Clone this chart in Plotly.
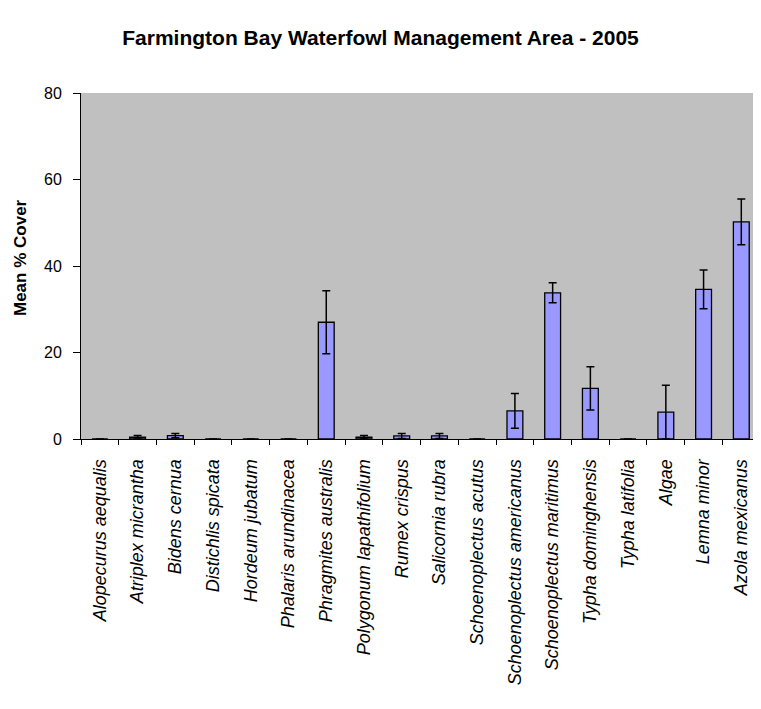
import plotly.graph_objects as go

species = ["Alopecurus aequalis", "Atriplex micrantha", "Bidens cernua", "Distichlis spicata",
           "Hordeum jubatum", "Phalaris arundinacea", "Phragmites australis",
           "Polygonum lapathifolium", "Rumex crispus", "Salicornia rubra",
           "Schoenoplectus acutus", "Schoenoplectus americanus", "Schoenoplectus maritimus",
           "Typha dominghensis", "Typha latifolia", "Algae", "Lemna minor", "Azola mexicanus"]
mean_cover = [0, 0.4, 0.8, 0, 0, 0, 27.0, 0.4, 0.7, 0.7, 0, 6.5, 33.8, 11.7, 0, 6.2, 34.6, 50.2]
std_err = [0, 0.4, 0.5, 0, 0, 0, 7.3, 0.4, 0.6, 0.6, 0, 4.0, 2.3, 5.0, 0, 6.2, 4.5, 5.3]
y_ticks = [0, 20, 40, 60, 80]

# page body has an 8px margin, so the figure is shrunk to fit the window
fig = go.Figure()
fig.add_trace(go.Bar(x=species, y=mean_cover,
                     marker=dict(color="#9999FF", line=dict(color="black", width=1.3)),
                     error_y=dict(type="data", array=std_err, visible=True,
                                  color="black", thickness=1.5, width=4)))

fig.update_layout(
    width=745, height=693,
    margin=dict(l=73, r=0, t=85, b=262),
    paper_bgcolor="white", plot_bgcolor="#C0C0C0",
    bargap=0.58, showlegend=False,
    font=dict(family="Liberation Sans, Arial, sans-serif", color="black"),
    title=dict(text="<b>Farmington Bay Waterfowl Management Area - 2005</b>",
               x=0.5, xanchor="center", y=1 - 30 / 693, yanchor="middle",
               yref="container", font=dict(size=21)),
)
fig.update_xaxes(type="category", range=[-0.5, 17.31], tickangle=-90,
                 tickfont=dict(size=18, style="italic"),
                 showline=True, linecolor="black", linewidth=1,
                 ticks="outside", tickson="boundaries", ticklen=5, tickcolor="black",
                 ticklabelstandoff=12, showgrid=False)
fig.update_yaxes(range=[0, 80], tickvals=y_ticks, tickfont=dict(size=16),
                 showline=True, linecolor="black", linewidth=1,
                 ticks="outside", ticklen=7, tickcolor="black", ticklabelstandoff=8,
                 showgrid=False, zeroline=False)
fig.add_annotation(text="<b>Mean % Cover</b>", xref="paper", yref="paper",
                   x=(12 - 73) / 672, y=(431 - 250) / 346, textangle=-90,
                   xanchor="center", yanchor="middle",
                   showarrow=False, font=dict(size=17))

fig.write_html("out.html")
